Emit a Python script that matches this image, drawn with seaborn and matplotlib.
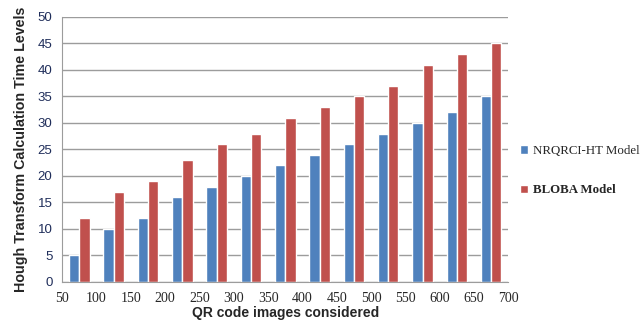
import numpy as np
import pandas as pd
import seaborn as sns
import matplotlib.pyplot as plt

# Datos
groups = list(range(13))
tick_labels = ["50", "100", "150", "200", "250", "300", "350",
               "400", "450", "500", "550", "600", "650", "700"]
nrqrci = [5, 10, 12, 16, 18, 20, 22, 24, 26, 28, 30, 32, 35]
bloba = [12, 17, 19, 23, 26, 28, 31, 33, 35, 37, 41, 43, 45]

df = pd.DataFrame({
    "grupo": groups * 2,
    "valor": nrqrci + bloba,
    "modelo": ["NRQRCI-HT Model"] * 13 + ["BLOBA Model"] * 13,
})

sns.set_style("white")
fig = plt.figure(figsize=(6.41, 3.2), dpi=100)
ax = fig.add_axes([0.097, 0.119, 0.696, 0.828])

sns.barplot(data=df, x="grupo", y="valor", hue="modelo",
            palette=["#4F81BD", "#C0504D"], width=0.6, saturation=1,
            ax=ax, legend=True)

ax.set_xlim(-0.5, 12.5)
ax.set_ylim(0, 50)
ax.set_yticks(np.arange(0, 51, 5))
ax.set_xticks(np.arange(-0.5, 13, 1))
ax.set_xticklabels(tick_labels, family="Liberation Serif", fontsize=10)
for t in ax.get_yticklabels():
    t.set_family("Liberation Sans")
    t.set_fontsize(9.5)
    t.set_color("#1F2D5A")

ax.yaxis.grid(True, color="#9C9C9C", linewidth=1)
ax.set_axisbelow(True)
for s in ["top", "right"]:
    ax.spines[s].set_visible(False)
for s in ["left", "bottom"]:
    ax.spines[s].set_color("#9C9C9C")
ax.tick_params(axis="both", direction="out", length=4, color="#9C9C9C", pad=3)

ax.set_xlabel("QR code images considered", fontsize=10, fontweight="bold",
              family="Liberation Sans", labelpad=1)
ax.set_ylabel("Hough Transform Calculation Time Levels", fontsize=10.3,
              fontweight="bold", family="Liberation Sans", labelpad=7)

leg = ax.legend(loc="center left", bbox_to_anchor=(1.0, 0.42), frameon=False,
                handlelength=0.6, handleheight=0.6, handletextpad=0.4,
                labelspacing=2.1, prop={"family": "Liberation Serif", "size": 9.3})
leg.get_texts()[1].set_fontweight("bold")

plt.savefig("out.png", dpi=100)
plt.close()
